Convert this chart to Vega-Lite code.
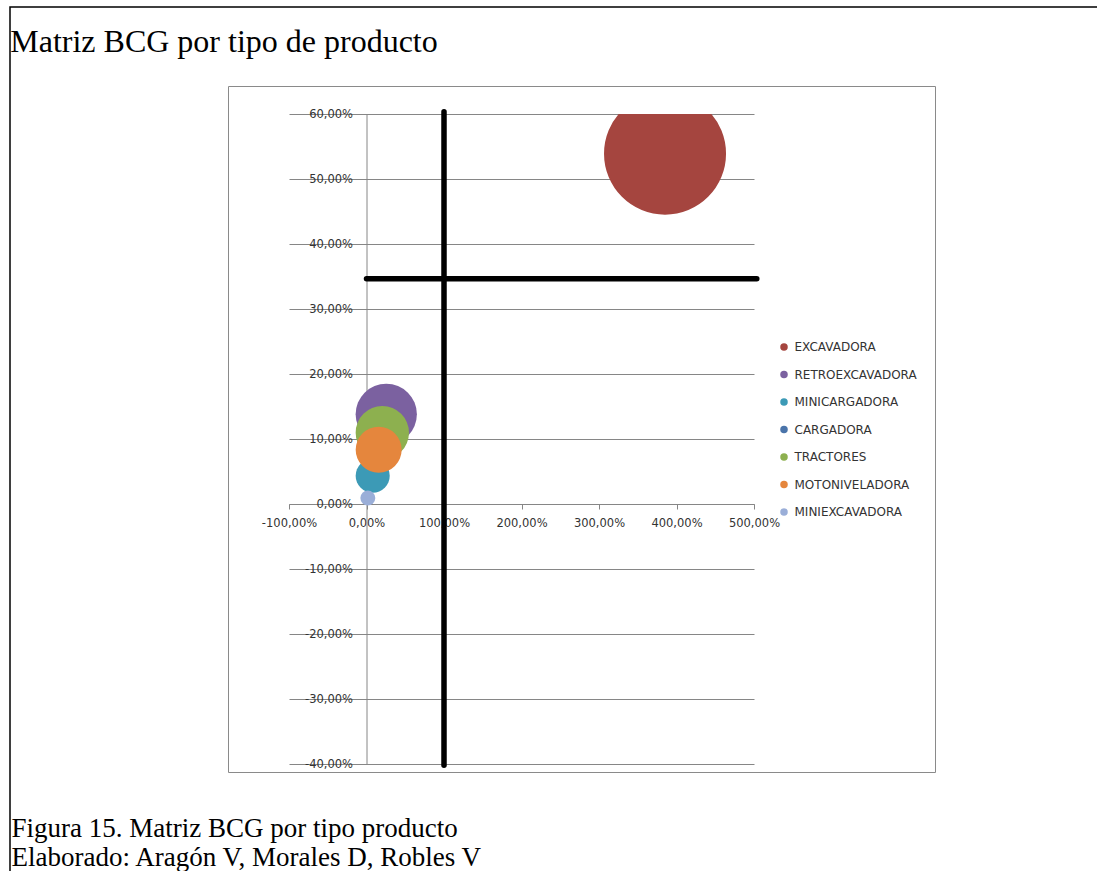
{
  "$schema": "https://vega.github.io/schema/vega-lite/v6.json",
  "autosize": "none",
  "width": 465,
  "height": 650,
  "padding": {"left": 289, "top": 114, "right": 343, "bottom": 107},
  "background": "white",
  "title": {
    "text": "Matriz BCG por tipo de producto",
    "anchor": "start",
    "frame": "bounds",
    "font": "Liberation Serif",
    "fontSize": 32,
    "fontWeight": "normal",
    "color": "black",
    "baseline": "alphabetic",
    "offset": 0,
    "dx": 1,
    "dy": 78
  },
  "datasets": {
    "productos": [
      {"producto": "EXCAVADORA", "cuota": 3.852, "crecimiento": 0.539, "tamano": 100, "orden": 1},
      {"producto": "RETROEXCAVADORA", "cuota": 0.255, "crecimiento": 0.138, "tamano": 25.2, "orden": 2},
      {"producto": "MINICARGADORA", "cuota": 0.08, "crecimiento": 0.0435, "tamano": 7.8, "orden": 3},
      {"producto": "CARGADORA", "cuota": 0.18, "crecimiento": 0.095, "tamano": 6, "orden": 4},
      {"producto": "TRACTORES", "cuota": 0.204, "crecimiento": 0.1097, "tamano": 19.1, "orden": 5},
      {"producto": "MOTONIVELADORA", "cuota": 0.157, "crecimiento": 0.0835, "tamano": 14.2, "orden": 6},
      {"producto": "MINIEXCAVADORA", "cuota": 0.017, "crecimiento": 0.0092, "tamano": 1.5, "orden": 7}
    ]
  },
  "layer": [
    {
      "data": {"values": [{}]},
      "mark": {"type": "rect", "filled": false, "stroke": "black", "strokeWidth": 1.5},
      "encoding": {
        "x": {"datum": -4.6, "type": "quantitative"},
        "x2": {"datum": 10},
        "y": {"datum": 0.7646, "type": "quantitative"},
        "y2": {"datum": -0.8}
      }
    },
    {
      "data": {"values": [{}]},
      "mark": {"type": "rect", "filled": false, "stroke": "#8a8a8a", "strokeWidth": 1},
      "encoding": {
        "x": {"datum": -1.7806, "type": "quantitative"},
        "x2": {"datum": 7.342},
        "y": {"datum": 0.6423, "type": "quantitative"},
        "y2": {"datum": -0.4131}
      }
    },
    {
      "data": {"name": "productos"},
      "mark": {"type": "circle", "clip": true, "opacity": 1},
      "encoding": {
        "x": {
          "field": "cuota",
          "type": "quantitative",
          "scale": {"domain": [-1, 5], "nice": false, "zero": false},
          "axis": {
            "values": [-1, 0, 1, 2, 3, 4, 5],
            "format": ".2%",
            "offset": -260,
            "grid": false,
            "domainColor": "#868686",
            "tickColor": "#868686",
            "tickSize": 5,
            "labelPadding": 8,
            "labelFlush": false,
            "labelOverlap": false,
            "title": ["Figura 15. Matriz BCG por tipo producto", "Elaborado: Aragón V, Morales D, Robles V"],
            "titleFont": "Liberation Serif",
            "titleFontSize": 27,
            "titleFontWeight": "normal",
            "titleColor": "black",
            "titleAlign": "left",
            "titleAnchor": "start",
            "titleBaseline": "alphabetic",
            "titleX": -278,
            "titleY": 332,
            "titleLineHeight": 29
          }
        },
        "y": {
          "field": "crecimiento",
          "type": "quantitative",
          "scale": {"domain": [-0.4, 0.6], "nice": false, "zero": false},
          "axis": {
            "values": [-0.4, -0.3, -0.2, -0.1, 0, 0.1, 0.2, 0.3, 0.4, 0.5, 0.6],
            "format": ".2%",
            "offset": -77.5,
            "grid": true,
            "gridColor": "#868686",
            "domainColor": "#868686",
            "ticks": false,
            "labelPadding": 14,
            "title": null
          }
        },
        "size": {
          "field": "tamano",
          "type": "quantitative",
          "scale": {"type": "linear", "domain": [0, 100], "range": [0, 14884]},
          "legend": null
        },
        "color": {
          "field": "producto",
          "type": "nominal",
          "sort": null,
          "scale": {
            "domain": ["EXCAVADORA", "RETROEXCAVADORA", "MINICARGADORA", "CARGADORA", "TRACTORES", "MOTONIVELADORA", "MINIEXCAVADORA"],
            "range": ["#a5453f", "#7b61a0", "#3c9ab6", "#4a74aa", "#8db04f", "#e5863d", "#9aaed8"]
          },
          "legend": {
            "title": null,
            "orient": "none",
            "legendX": 489,
            "legendY": 227,
            "padding": 0,
            "symbolType": "circle",
            "symbolSize": 56,
            "symbolStrokeWidth": 0,
            "symbolOpacity": 1,
            "labelFont": "DejaVu Sans",
            "labelFontSize": 12,
            "labelColor": "#333333",
            "labelOffset": 4.5,
            "labelLimit": 300,
            "rowPadding": 15.5
          }
        },
        "order": {"field": "orden", "type": "quantitative"}
      }
    },
    {
      "data": {"values": [{}]},
      "mark": {"type": "rule", "color": "black", "strokeWidth": 5.5, "strokeCap": "round"},
      "encoding": {
        "x": {"datum": 1, "type": "quantitative"},
        "y": {"datum": 0.6034, "type": "quantitative"},
        "y2": {"datum": -0.4018}
      }
    },
    {
      "data": {"values": [{}]},
      "mark": {"type": "rule", "color": "black", "strokeWidth": 5.5, "strokeCap": "round"},
      "encoding": {
        "x": {"datum": 0, "type": "quantitative"},
        "x2": {"datum": 5.036},
        "y": {"datum": 0.3466, "type": "quantitative"}
      }
    }
  ],
  "config": {
    "locale": {
      "number": {"decimal": ",", "thousands": ".", "grouping": [3], "currency": ["", " €"], "minus": "-"}
    },
    "view": {"stroke": null},
    "axis": {
      "labelFont": "DejaVu Sans",
      "labelFontSize": 11.5,
      "labelColor": "#333333"
    }
  }
}
